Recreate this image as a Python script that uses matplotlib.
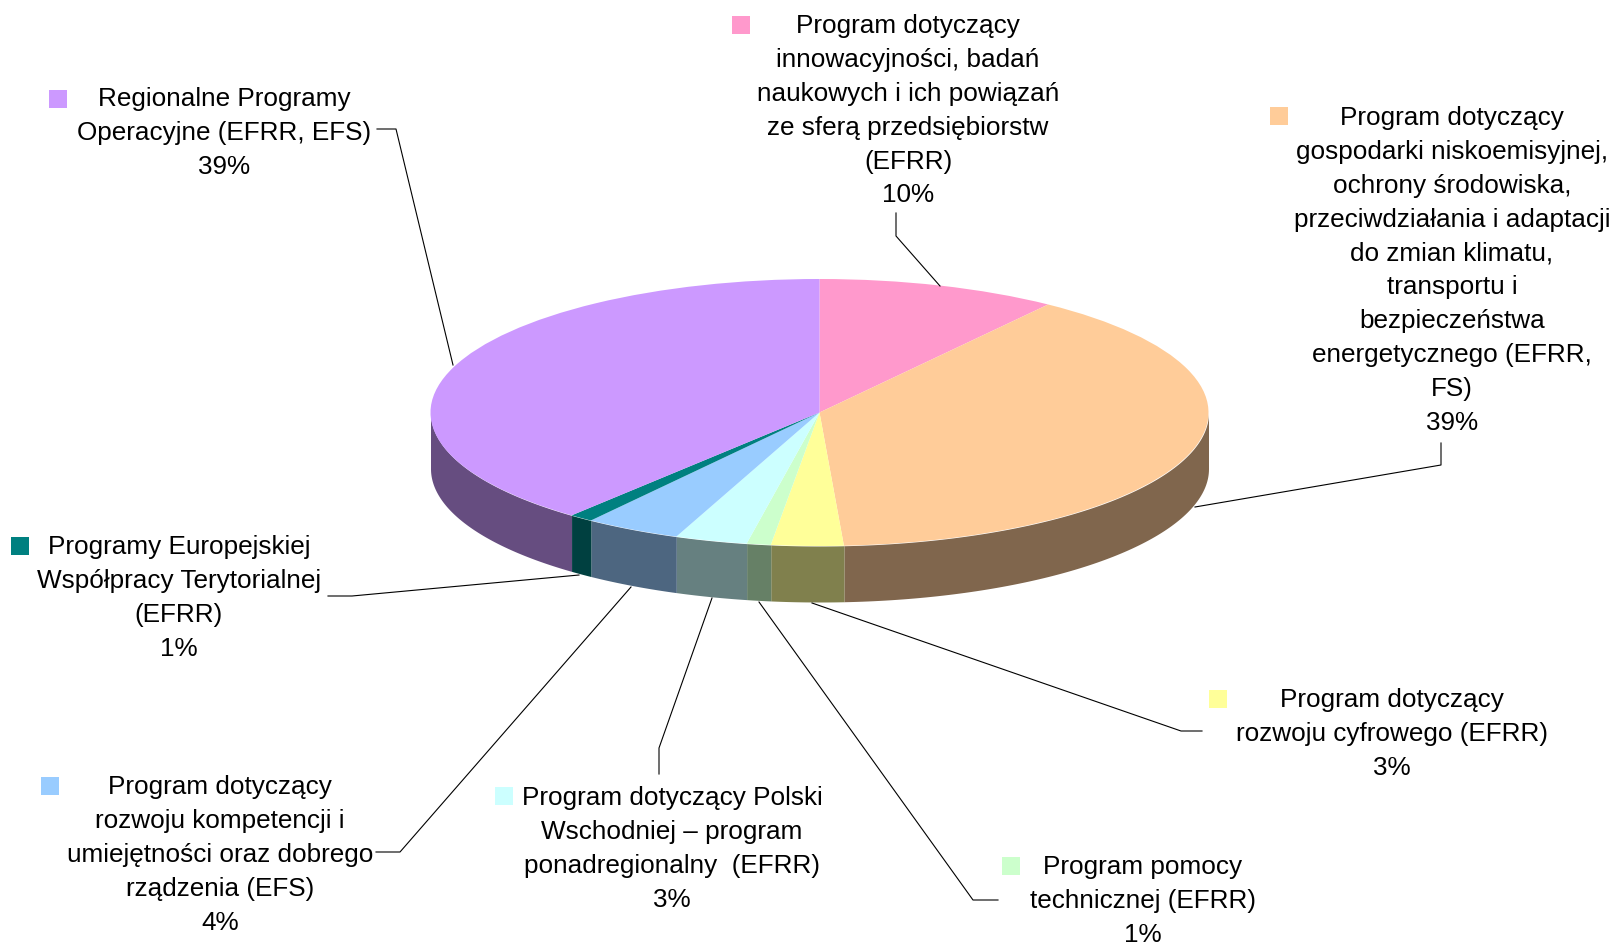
import numpy as np
import matplotlib
matplotlib.use('Agg')
import matplotlib.pyplot as plt

plt.rcParams['font.family'] = ['Liberation Sans', 'DejaVu Sans']

# dane - od gory zgodnie z ruchem wskazowek
nazwy = [
    'Program dotyczący\ninnowacyjności, badań\nnaukowych i ich powiązań\nze sferą przedsiębiorstw\n(EFRR)',
    'Program dotyczący\ngospodarki niskoemisyjnej,\nochrony środowiska,\nprzeciwdziałania i adaptacji\ndo zmian klimatu,\ntransportu i\nbezpieczeństwa\nenergetycznego (EFRR,\nFS)',
    'Program dotyczący\nrozwoju cyfrowego (EFRR)',
    'Program pomocy\ntechnicznej (EFRR)',
    'Program dotyczący Polski\nWschodniej – program\nponadregionalny  (EFRR)',
    'Program dotyczący\nrozwoju kompetencji i\numiejętności oraz dobrego\nrządzenia (EFS)',
    'Programy Europejskiej\nWspółpracy Terytorialnej\n(EFRR)',
    'Regionalne Programy\nOperacyjne (EFRR, EFS)',
]
wartosci = [10, 39, 3, 1, 3, 4, 1, 39]
kolory = ['#FF99CC', '#FFCC99', '#FFFF99', '#CCFFCC', '#CCFFFF', '#99CCFF', '#008080', '#CC99FF']
kolory_boki = ['#804D66', '#80664D', '#80804D', '#668066', '#668080', '#4D6680', '#004040', '#664D80']

# uklad w pikselach obrazka
W, H = 1614, 943
cx, cy, rx, ry, glebokosc = 819.5, 412.5, 389, 133.5, 56

# srodek tekstu (x, gorna krawedz), kwadracik, linia odniesienia
pozycje_tekstu = [(908, 14), (1452, 106), (1392, 688), (1143, 855), (672, 786), (220, 775), (179, 535), (224, 87)]
kwadraciki = [(732, 16), (1270, 107), (1209, 690), (1002, 857), (495, 787), (41, 777), (11, 537), (49, 90)]
linie = [
    [(896, 213), (896, 236), (940, 286)],
    [(1441, 443), (1441, 465), (1195, 507)],
    [(1202, 731), (1181, 731), (812, 603)],
    [(998, 900), (973, 900), (759, 602)],
    [(659, 774), (659, 748), (712, 598)],
    [(376, 852), (400, 852), (631, 587)],
    [(328, 596), (352, 596), (579, 575)],
    [(377, 129), (396, 129), (453, 365)],
]

fig = plt.figure(figsize=(W / 100, H / 100), dpi=100, facecolor='white')

# os kolowa: promien = 1 w obu kierunkach, dlatego kolo wychodzi jako elipsa
ax = fig.add_axes([0, 0, 1, 1])
d = glebokosc / ry
katy = np.cumsum([0] + wartosci) / sum(wartosci) * 2 * np.pi

# boki - tylko przednia polowa (od 90 do 270 stopni)
for i in range(len(wartosci)):
    a = max(katy[i], np.pi / 2)
    b = min(katy[i + 1], 3 * np.pi / 2)
    if b <= a:
        continue
    t = np.linspace(a, b, 100)
    ax.fill_between(np.sin(t), np.cos(t) - d, np.cos(t), color=kolory_boki[i], lw=0)

ax.pie(wartosci, colors=kolory, startangle=90, counterclock=False, radius=1,
       wedgeprops={'linewidth': 0})
ax.set_aspect('auto')
ax.set_xlim(-cx / rx, (W - cx) / rx)
ax.set_ylim((cy - H) / ry, cy / ry)
ax.axis('off')

# druga os w pikselach na opisy
ax2 = fig.add_axes([0, 0, 1, 1])
ax2.set_xlim(0, W)
ax2.set_ylim(H, 0)
ax2.axis('off')
ax2.patch.set_alpha(0)

for i in range(len(wartosci)):
    x, y = pozycje_tekstu[i]
    ax2.text(x, y, nazwy[i] + '\n' + str(wartosci[i]) + '%', ha='center', va='top',
             ma='center', fontsize=18.8, linespacing=1.52, color='black')
    kx, ky = kwadraciki[i]
    ax2.fill([kx, kx + 18, kx + 18, kx], [ky, ky, ky + 18, ky + 18], color=kolory[i], lw=0)
    ax2.plot([p[0] for p in linie[i]], [p[1] for p in linie[i]], color='black', lw=0.8)

fig.savefig('out.png', dpi=100)
